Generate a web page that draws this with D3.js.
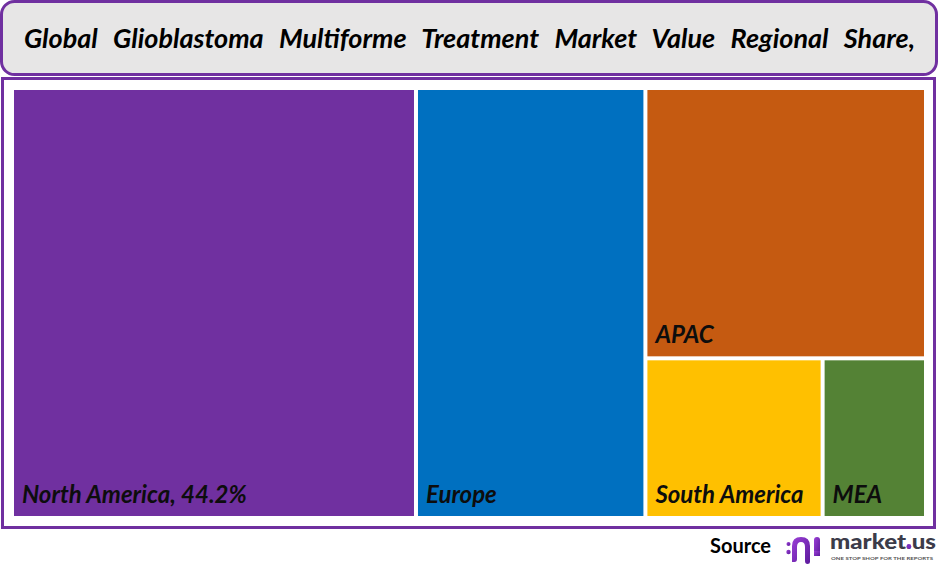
<!DOCTYPE html>
<html>
<head>
<meta charset="utf-8">
<script src="https://cdn.jsdelivr.net/npm/d3@7"></script>
<style>
  html, body { margin: 0; padding: 0; background: #ffffff; }
  svg { display: block; }
</style>
</head>
<body>
<svg id="chart" width="940" height="566"></svg>
<script>
const titleText = "Global Glioblastoma Multiforme Treatment Market Value Regional Share,";
const regions = ["North America", "Europe", "APAC", "South America", "MEA"];
const shares = [44.2, 25.1, 19.3, 7.2, 4.2];
const colors = ["#7030A0", "#0070C0", "#C55A11", "#FFC000", "#548235"];
const labelWithValue = [true, false, false, false, false];

const svg = d3.select("#chart");
const font = "Lato, 'Open Sans', 'DejaVu Sans', sans-serif";

// Title box
svg.append("rect")
  .attr("x", 1.5).attr("y", 1.5).attr("width", 935).attr("height", 73)
  .attr("rx", 13).attr("ry", 13)
  .attr("fill", "#E7E6E6").attr("stroke", "#7030A0").attr("stroke-width", 3);

const title = svg.append("text")
  .attr("x", 24).attr("y", 48)
  .attr("font-family", font).attr("font-weight", "bold").attr("font-style", "italic")
  .attr("font-size", 27).attr("fill", "#000")
  .text(titleText);
(function () {
  const target = 891;
  const len = title.node().getComputedTextLength();
  const gaps = titleText.split(" ").length - 1;
  const ws = Math.max(0, (target - len) / gaps);
  title.attr("word-spacing", ws);
})();

// Main frame
svg.append("rect")
  .attr("x", 2.5).attr("y", 78.5).attr("width", 932).attr("height", 449)
  .attr("fill", "#ffffff").attr("stroke", "#7030A0").attr("stroke-width", 3);

// Treemap
const x0 = 14, y0 = 90, x1 = 924, y1 = 516;
const data = { name: "root", children: regions.map((r, i) => ({ name: r, value: shares[i], i })) };
const root = d3.hierarchy(data).sum(d => d.value || 0).sort((a, b) => b.value - a.value);
d3.treemap()
  .tile(d3.treemapSquarify.ratio(1))
  .size([x1 - x0, y1 - y0])
  .paddingInner(4)
  .round(false)(root);

const g = svg.append("g").attr("transform", `translate(${x0},${y0})`);
const leaves = root.leaves();
const node = g.selectAll("g.tile").data(leaves).join("g").attr("class", "tile");

node.append("rect")
  .attr("x", d => d.x0)
  .attr("y", d => d.y0)
  .attr("width", d => d.x1 - d.x0)
  .attr("height", d => d.y1 - d.y0)
  .attr("fill", d => colors[d.data.i]);

node.append("text")
  .attr("x", d => d.x0 + 8)
  .attr("y", d => d.y1 - 13)
  .attr("font-family", font).attr("font-weight", "bold").attr("font-style", "italic")
  .attr("font-size", 24).attr("fill", "#0d0d0d")
  .text(d => labelWithValue[d.data.i] ? `${d.data.name}, ${d3.format(".1f")(d.data.value)}%` : d.data.name);

// Source + logo
svg.append("text")
  .attr("x", 710).attr("y", 553)
  .attr("font-family", font).attr("font-weight", "bold")
  .attr("font-size", 20).attr("fill", "#000")
  .text("Source");

const defs = svg.append("defs");
const grad = defs.append("linearGradient").attr("id", "lg").attr("x1", "0").attr("y1", "0").attr("x2", "1").attr("y2", "1");
grad.append("stop").attr("offset", "0%").attr("stop-color", "#9b3fd6");
grad.append("stop").attr("offset", "100%").attr("stop-color", "#5b1a9c");

const logo = svg.append("g").attr("fill", "url(#lg)");
logo.append("circle").attr("cx", 788.5).attr("cy", 544).attr("r", 2);
logo.append("circle").attr("cx", 788.5).attr("cy", 552).attr("r", 2.2);
logo.append("path")
  .attr("d", "M792,562 L792,546 Q792,537 801,537 Q810,537 810,546 L810,562 Q810,564 807.5,564 Q805,564 805,561 L805,547 Q805,542 801,542 Q797,542 797,547 L797,559 Q797,562 794.5,562 Z");
logo.append("rect").attr("x", 814).attr("y", 537).attr("width", 6).attr("height", 19).attr("rx", 3);
logo.append("rect").attr("x", 814).attr("y", 551).attr("width", 6).attr("height", 5);

const brand = svg.append("text")
  .attr("x", 830).attr("y", 549)
  .attr("font-family", font).attr("font-weight", "900")
  .attr("font-size", 20).attr("fill", "#3c3c4a")
  .attr("textLength", 106).attr("lengthAdjust", "spacingAndGlyphs")
  .text("market.us");
try {
  const ext = brand.node().getExtentOfChar(6);
  svg.append("circle")
    .attr("cx", ext.x + ext.width / 2).attr("cy", 546.5).attr("r", 2.4)
    .attr("fill", "#7a2fc0");
} catch (e) {}

svg.append("text")
  .attr("x", 831).attr("y", 560)
  .attr("font-family", font).attr("font-weight", "bold")
  .attr("font-size", 4.5).attr("fill", "#555")
  .attr("textLength", 102).attr("lengthAdjust", "spacingAndGlyphs")
  .text("ONE STOP SHOP FOR THE REPORTS");
</script>
</body>
</html>
